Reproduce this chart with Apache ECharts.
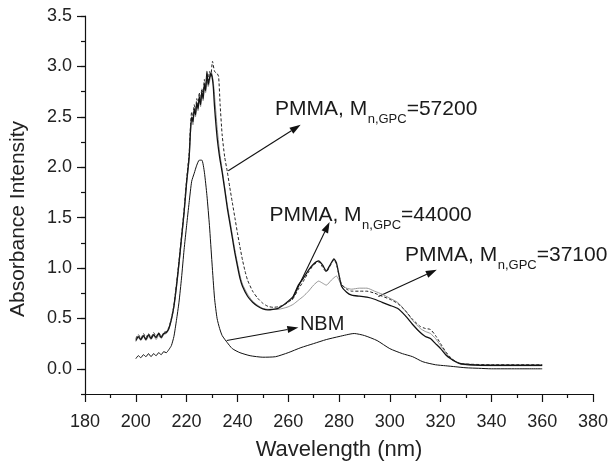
<!DOCTYPE html>
<html>
<head>
<meta charset="utf-8">
<script src="https://cdn.jsdelivr.net/npm/echarts@6/dist/echarts.min.js"></script>
<style>
  html, body { margin: 0; padding: 0; background: #fff; }
  #chart { width: 610px; height: 463px; }
</style>
</head>
<body>
<div id="chart"></div>
<script>
const FONT = '"Liberation Sans", Arial, Helvetica, sans-serif';

// ---- NBM ----
const nbmNm = [200,201,202,203,204,205,206,207,208,209,210,211,212,213,214,215,216,217,218,219,220,221,222,223,224,225,226,227,228,229,230,231,232,233,234,236,238,241,245,250,255,260,265,270,275,280,286,290,295,300,305,309,313,318,322,326,330,335,340,350,360];
const nbmAbs = [0.10,0.13,0.11,0.14,0.12,0.15,0.12,0.15,0.13,0.16,0.14,0.17,0.16,0.19,0.23,0.32,0.48,0.66,0.90,1.18,1.42,1.65,1.86,1.94,2.02,2.07,2.07,1.95,1.72,1.42,1.05,0.70,0.50,0.40,0.33,0.26,0.20,0.16,0.13,0.115,0.12,0.16,0.21,0.25,0.29,0.32,0.35,0.33,0.28,0.20,0.15,0.12,0.07,0.04,0.03,0.02,0.01,0.005,0.0,0.0,0.0];

// ---- PMMA, Mn=44000 (solid) ----
const pmma44Nm = [200,201,202,203,204,205,206,207,208,209,210,211,212,213,214,215,216,217,218,219,220,221,
  221.5,222,222.5,223,223.5,224,224.5,225,225.5,226,226.5,227,227.5,228,228.5,229,229.5,230,230.5,
  231,232,233,234,235,236,237,238,239,240,241,242,
  244,246,248,250,252,254,256,258,260,262,264,266,268,270,272,
  273.5,275,276.5,278,279,280,281,
  283,285,288,291,294,297,300,303,306,309,312,
  314,316,318,320,322,324,326,328,
  332,340,350,360];
const pmma44Abs = [0.28,0.32,0.29,0.33,0.29,0.34,0.30,0.34,0.31,0.35,0.31,0.35,0.36,0.40,0.49,0.62,0.82,1.05,1.30,1.55,1.85,2.10,
  2.35,2.50,2.45,2.58,2.52,2.64,2.58,2.70,2.62,2.75,2.68,2.83,2.76,2.95,2.82,2.88,2.93,2.90,2.80,
  2.60,2.30,2.10,1.95,1.78,1.60,1.45,1.30,1.15,1.02,0.90,0.82,
  0.72,0.66,0.62,0.595,0.585,0.59,0.60,0.63,0.67,0.72,0.83,0.90,0.98,1.04,1.07,
  1.03,0.97,1.03,1.09,1.05,0.93,0.82,
  0.76,0.73,0.72,0.71,0.69,0.66,0.63,0.60,0.53,0.44,0.36,
  0.32,0.30,0.25,0.20,0.14,0.10,0.07,0.05,
  0.04,0.035,0.035,0.035];

// ---- PMMA, Mn=37100 (thin grey) ----
const pmma37Nm = [200,201,202,203,204,205,206,207,208,209,210,211,212,213,214,215,216,217,218,219,220,221,
  221.5,222,222.5,223,223.5,224,224.5,225,225.5,226,226.5,227,227.5,228,228.5,229,
  229.7,230.5,231.2,232,233,234,235,236,237,238,239,240,241,242,
  244,246,248,250,252,254,256,258,260,262,264,266,268,270,272,
  273.5,275,277,279,280,281,
  283,285,288,291,294,297,300,303,306,309,312,
  314,316,318,320,322,324,326,328,
  332,340,350,360];
const pmma37Abs = [0.27,0.31,0.28,0.32,0.28,0.32,0.29,0.33,0.29,0.33,0.30,0.34,0.35,0.39,0.48,0.61,0.80,1.03,1.28,1.53,1.83,2.08,
  2.32,2.48,2.42,2.55,2.50,2.62,2.56,2.68,2.60,2.72,2.66,2.80,2.74,2.90,2.80,2.84,
  2.95,2.85,2.65,2.40,2.15,1.98,1.80,1.63,1.48,1.33,1.18,1.05,0.93,0.84,
  0.74,0.67,0.63,0.60,0.59,0.59,0.59,0.60,0.615,0.64,0.68,0.72,0.77,0.83,0.87,
  0.85,0.83,0.88,0.92,0.88,0.83,
  0.80,0.79,0.80,0.80,0.77,0.74,0.70,0.66,0.58,0.48,0.40,
  0.37,0.35,0.30,0.23,0.16,0.10,0.065,0.045,
  0.035,0.03,0.03,0.03];

// ---- PMMA, Mn=57200 (dashed) ----
const pmma57Nm = [200,201,202,203,204,205,206,207,208,209,210,211,212,213,214,215,216,217,218,219,220,221,
  221.5,222,222.5,223,223.5,224,224.5,225,225.5,226,226.5,227,227.5,228,228.5,229,229.5,
  230.2,231,232,232.6,233.2,234,235,236,237,238,239,240,241,242,243,
  244,246,248,250,252,254,256,258,260,262,264,266,268,270,272,
  273.5,275,276.5,278,279,280,281,
  283,285,288,291,294,297,300,303,306,309,312,
  314,316,318,320,322,324,326,328,
  332,340,350,360];
const pmma57Abs = [0.30,0.34,0.30,0.35,0.31,0.35,0.31,0.36,0.32,0.36,0.32,0.36,0.37,0.41,0.50,0.63,0.84,1.07,1.32,1.58,1.88,2.14,
  2.40,2.55,2.48,2.62,2.55,2.68,2.62,2.74,2.66,2.78,2.72,2.87,2.80,2.92,2.86,2.95,2.90,
  3.05,2.95,2.93,2.90,2.62,2.32,2.10,1.96,1.80,1.65,1.50,1.35,1.21,1.08,0.97,
  0.88,0.77,0.70,0.65,0.62,0.61,0.615,0.63,0.66,0.70,0.79,0.87,0.96,1.03,1.06,
  1.01,0.96,1.02,1.08,1.04,0.93,0.84,
  0.79,0.77,0.77,0.77,0.75,0.72,0.69,0.65,0.58,0.49,0.42,
  0.40,0.39,0.33,0.25,0.17,0.11,0.07,0.05,
  0.045,0.04,0.04,0.04];

// Axis ticks
const yMajorTicks = [0, 0.5, 1.0, 1.5, 2.0, 2.5, 3.0, 3.5];

// Callouts: text anchor (left/middle), arrow tail and arrow head, in data units
const callouts = [
  { main: 'PMMA, M', sub: 'n,GPC', rest: '=57200', at: [254.8, 2.575], from: [236.4, 1.964], to: [264.9, 2.42] },
  { main: 'PMMA, M', sub: 'n,GPC', rest: '=44000', at: [252.6, 1.52],  from: [261.5, 0.685], to: [276.3, 1.457] },
  { main: 'PMMA, M', sub: 'n,GPC', rest: '=37100', at: [306.0, 1.125], from: [295.5, 0.718], to: [318.5, 0.982] },
  { main: 'NBM',     sub: '',      rest: '',       at: [264.6, 0.44],  from: [235.8, 0.28],  to: [264.0, 0.41] }
];

function zip(xs, ys) { return xs.map((x, i) => [x, ys[i]]); }

const chart = echarts.init(document.getElementById('chart'), null, { renderer: 'canvas' });

const axisColor = '#111';
const option = {
  animation: false,
  backgroundColor: '#fff',
  grid: { left: 85, right: 17, top: 16, bottom: 69, containLabel: false, outerBoundsMode: 'none' },
  xAxis: {
    type: 'value', min: 180, max: 380, interval: 20,
    name: 'Wavelength (nm)', nameLocation: 'middle', nameGap: 45,
    nameTextStyle: { fontFamily: FONT, fontSize: 22, color: '#222' },
    axisLine: { show: true, onZero: false, lineStyle: { color: axisColor, width: 1.2 } },
    axisTick: { show: true, inside: false, length: 8, lineStyle: { color: axisColor, width: 1.2 } },
    minorTick: { show: true, splitNumber: 2, length: 4, lineStyle: { color: axisColor, width: 1.2 } },
    axisLabel: { fontFamily: FONT, fontSize: 18, color: '#222', margin: 19 },
    splitLine: { show: false }, minorSplitLine: { show: false }
  },
  yAxis: [
    {
      type: 'value', min: -0.25, max: 3.5, interval: 0.25,
      axisLine: { show: true, onZero: false, lineStyle: { color: axisColor, width: 1.2 } },
      axisTick: { show: true, inside: false, length: 4, lineStyle: { color: axisColor, width: 1.2 } },
      axisLabel: {
        fontFamily: FONT, fontSize: 18, color: '#222', margin: 13,
        formatter: v => (v >= 0 && Math.abs(v * 2 - Math.round(v * 2)) < 1e-6) ? v.toFixed(1) : ''
      },
      splitLine: { show: false }
    },
    {
      type: 'value', min: -0.25, max: 3.5, interval: 0.25, position: 'left',
      axisLine: { show: false, onZero: false },
      axisTick: { show: true, inside: false, length: 8, customValues: yMajorTicks, lineStyle: { color: axisColor, width: 1.2 } },
      axisLabel: { show: false },
      splitLine: { show: false }
    }
  ],
  series: [
    { name: 'NBM', type: 'line', data: zip(nbmNm, nbmAbs), showSymbol: false, smooth: 0.2,
      lineStyle: { color: '#111', width: 1 } },
    { name: 'PMMA 37100', type: 'line', data: zip(pmma37Nm, pmma37Abs), showSymbol: false, smooth: 0.2,
      lineStyle: { color: '#8a8a8a', width: 0.9 } },
    { name: 'PMMA 44000', type: 'line', data: zip(pmma44Nm, pmma44Abs), showSymbol: false, smooth: 0.2,
      lineStyle: { color: '#111', width: 1.3 } },
    { name: 'PMMA 57200', type: 'line', data: zip(pmma57Nm, pmma57Abs), showSymbol: false, smooth: 0.2,
      lineStyle: { color: '#222', width: 1, type: [3, 2] } }
  ]
};
chart.setOption(option);

// Callout text and arrows, placed from data coordinates
const measureCtx = document.createElement('canvas').getContext('2d');
function textWidth(t, size) { measureCtx.font = size + 'px ' + FONT; return measureCtx.measureText(t).width; }

function textEl(text, x, y, size, extra) {
  return Object.assign({
    type: 'text', x: x, y: y, silent: true,
    style: { text: text, font: size + 'px ' + FONT, fill: '#1a1a1a',
      textAlign: 'left', textVerticalAlign: 'middle', align: 'left', verticalAlign: 'middle' }
  }, extra || {});
}

const graphics = [];
const MAIN = 21, SUB = 13;
callouts.forEach(c => {
  const p = chart.convertToPixel({ gridIndex: 0 }, c.at);
  let x = p[0];
  const y = p[1];
  const size = c.sub ? MAIN : 20;
  graphics.push(textEl(c.main, x, y, size));
  x += textWidth(c.main, size);
  if (c.sub) {
    graphics.push(textEl(c.sub, x + 0.5, y + 10, SUB));
    x += textWidth(c.sub, SUB) + 0.5;
  }
  if (c.rest) graphics.push(textEl(c.rest, x, y, size));

  const a = chart.convertToPixel({ gridIndex: 0 }, c.from);
  const b = chart.convertToPixel({ gridIndex: 0 }, c.to);
  const dx = b[0] - a[0], dy = b[1] - a[1];
  const len = Math.sqrt(dx * dx + dy * dy);
  const ux = dx / len, uy = dy / len;
  const headLen = 11, headHalf = 3.6;
  const bx = b[0] - ux * headLen, by = b[1] - uy * headLen;
  graphics.push({ type: 'line', silent: true,
    shape: { x1: a[0], y1: a[1], x2: bx, y2: by },
    style: { stroke: '#111', lineWidth: 1.1 } });
  graphics.push({ type: 'polygon', silent: true,
    shape: { points: [[b[0], b[1]], [bx - uy * headHalf, by + ux * headHalf], [bx + uy * headHalf, by - ux * headHalf]] },
    style: { fill: '#111' } });
});

// Y-axis title
graphics.push({
  type: 'text', x: 18, y: 219, rotation: Math.PI / 2, silent: true,
  style: { text: 'Absorbance Intensity', font: '21px ' + FONT, fill: '#222',
    textAlign: 'center', textVerticalAlign: 'middle', align: 'center', verticalAlign: 'middle' }
});

chart.setOption({ graphic: { elements: graphics } });
</script>
</body>
</html>
